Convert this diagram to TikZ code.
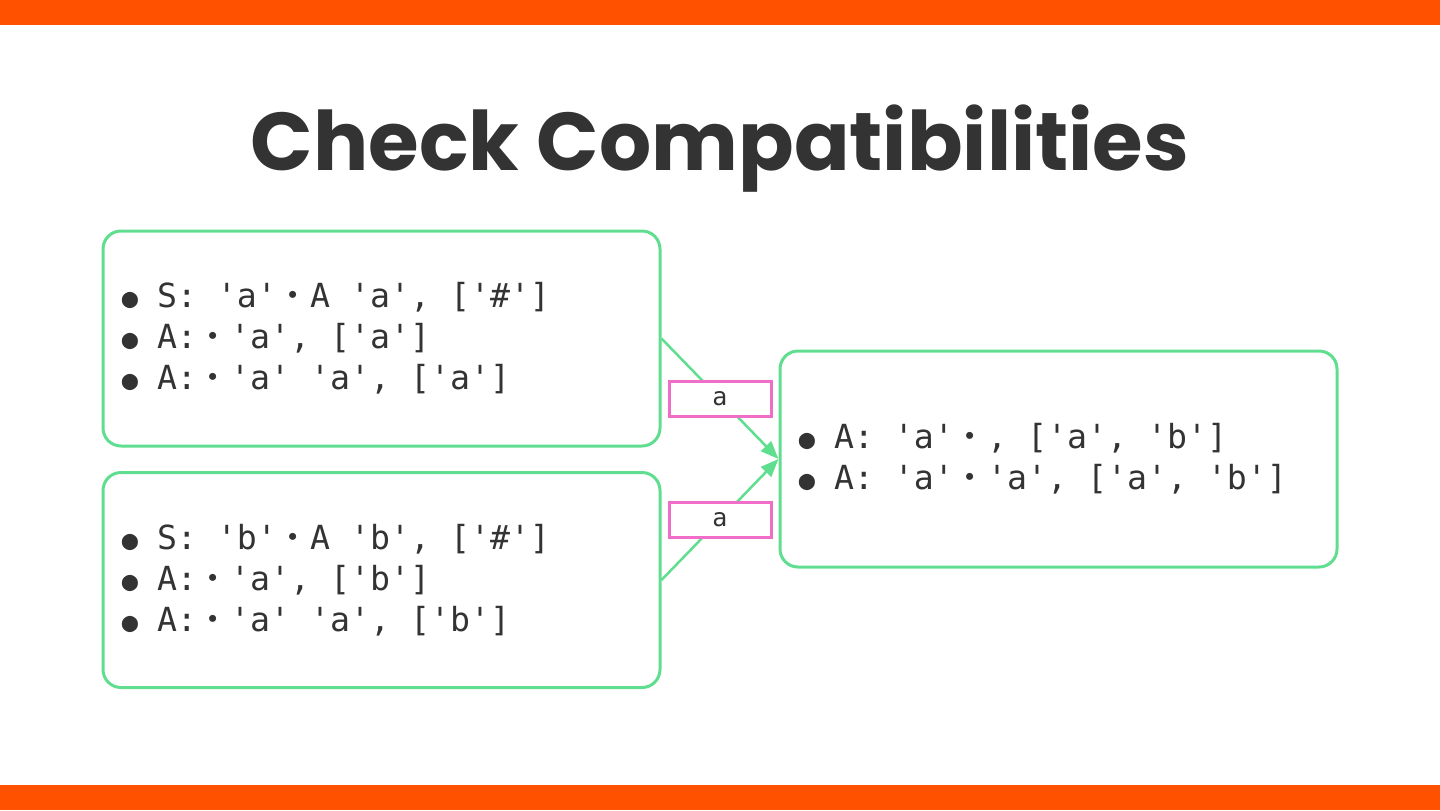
\documentclass[tikz,border=0pt]{standalone}
\usepackage{fontspec}
\usetikzlibrary{arrows.meta}
\setmainfont{DejaVu Sans}
\setmonofont{DejaVu Sans Mono}
\newfontfamily\titlefont{Poppins}
\newfontfamily\cjkfont{Noto Sans CJK JP}
\definecolor{orangebar}{RGB}{255,81,0}
\definecolor{boxgreen}{RGB}{96,222,144}
\definecolor{labelpink}{RGB}{240,110,200}
\definecolor{ink}{RGB}{51,51,51}
\newcommand{\md}{{\cjkfont ・}}
\newcommand{\bul}{\makebox[18.5pt][l]{\makebox[10pt][c]{\fontsize{13.5}{13.5}\selectfont ●}}}
\tikzset{
  rulebox/.style={draw=boxgreen, line width=1.5pt, rounded corners=9pt,
    minimum width=278.5pt, minimum height=107.5pt, inner xsep=8.5pt,
    text width=261.5pt, align=left, text=ink,
    font=\ttfamily\frenchspacing\fontsize{16.6}{20.5}\selectfont,
    execute at begin node={\spaceskip=10pt\relax}},
  edgelabel/.style={draw=labelpink, fill=white, line width=1.5pt,
    minimum width=51pt, minimum height=17.5pt, inner sep=0pt, text=ink,
    font=\ttfamily\fontsize{12.5}{12.5}\selectfont},
  flow/.style={draw=boxgreen, line width=1.25pt, -{Triangle[length=9pt,width=7pt]}},
  bar/.style={fill=orangebar, draw=none}
}
\begin{document}
\begin{tikzpicture}[x=0.5pt, y=-0.5pt]
\useasboundingbox (0,0) rectangle (1440,810);
\fill[bar] (0,0) rectangle (1440,25);
\fill[bar] (0,785) rectangle (1440,810);
\node[font=\titlefont\bfseries\fontsize{41}{48}\selectfont, text=ink, anchor=base] (title) at (720,170) {Check Compatibilities};
\node[rulebox] (s1) at (381.5,338.5) {\bul S: 'a'\md A 'a', ['\#']\\\bul A:\md'a', ['a']\\\bul A:\md'a' 'a', ['a']};
\node[rulebox] (s2) at (381.5,580) {\bul S: 'b'\md A 'b', ['\#']\\\bul A:\md'a', ['b']\\\bul A:\md'a' 'a', ['b']};
\node[rulebox, minimum height=108pt] (t) at (1058.5,459) {\bul A: 'a'\md, ['a', 'b']\\\bul A: 'a'\md'a', ['a', 'b']};
\draw[flow] (s1.east) -- (t.west) node[edgelabel, midway] (l1) {a};
\draw[flow] (s2.east) -- (t.west) node[edgelabel, midway] (l2) {a};
\end{tikzpicture}
\end{document}
